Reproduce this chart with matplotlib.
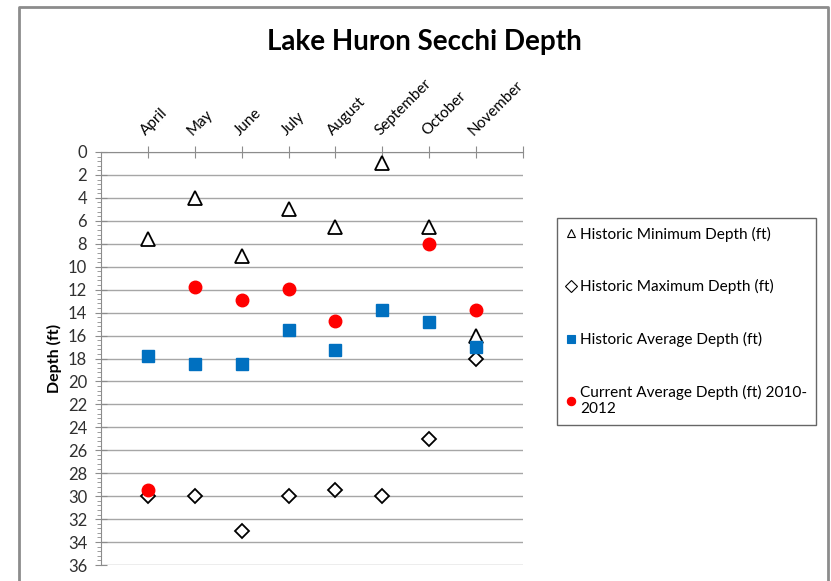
import matplotlib.pyplot as plt
from matplotlib.lines import Line2D
from matplotlib.ticker import MultipleLocator
import numpy as np

months = ["April", "May", "June", "July", "August", "September", "October", "November"]
hist_min = [7.6, 4.0, 9.1, 5.0, 6.5, 1.0, 6.5, 16.0]
hist_max = [30.0, 30.0, 33.0, 30.0, 29.5, 30.0, 25.0, 18.0]
hist_avg = [17.8, 18.5, 18.5, 15.5, 17.3, 13.8, 14.8, 17.0]
current_avg = [29.5, 11.8, 12.9, 11.9, 14.7, np.nan, 8.0, 13.8]

plt.rcParams['font.family'] = ['Lato', 'DejaVu Sans']

fig = plt.figure(figsize=(8.31, 5.81), dpi=100)
ax = fig.add_axes([101 / 831, 1 - 565 / 581, 422 / 831, 413 / 581])

x = np.arange(1, len(months) + 1)

ax.plot(x, hist_min, linestyle='none', marker='^', markersize=9.5,
        markerfacecolor='white', markeredgecolor='black', markeredgewidth=1.3,
        label='Historic Minimum Depth (ft)', zorder=3)
ax.plot(x, hist_max, linestyle='none', marker='D', markersize=7,
        markerfacecolor='white', markeredgecolor='black', markeredgewidth=1.3,
        label='Historic Maximum Depth (ft)', zorder=3)
ax.plot(x, hist_avg, linestyle='none', marker='s', markersize=8.5,
        color='#0070c0', label='Historic Average Depth (ft)', zorder=4)
ax.plot(x, current_avg, linestyle='none', marker='o', markersize=9,
        color='#ff0000', label='Current Average Depth (ft) 2010-\n2012', zorder=5)

ax.set_xlim(0, 9)
ax.set_ylim(36, 0)
ax.yaxis.set_major_locator(MultipleLocator(2))
ax.yaxis.set_minor_locator(MultipleLocator(0.4))
ax.grid(axis='y', color='#a6a6a6', linewidth=1.0)
ax.set_axisbelow(True)

ax.xaxis.tick_top()
ax.set_xticks(np.arange(1, 10))
ax.set_xticklabels(months + [""], rotation=45, ha='left', rotation_mode='anchor',
                   fontsize=11)
ax.tick_params(axis='x', which='major', direction='inout', length=8,
               color='#8c8c8c', pad=6, labelcolor='black')
ax.tick_params(axis='y', which='major', direction='inout', length=8,
               color='#8c8c8c', labelsize=12, labelcolor='#303030', pad=6)
ax.tick_params(axis='y', which='minor', direction='out', length=3,
               color='#8c8c8c')

for side in ['right', 'bottom']:
    ax.spines[side].set_visible(False)
ax.spines['left'].set_color('#8c8c8c')
ax.spines['top'].set_color('#8c8c8c')

ax.set_ylabel("Depth (ft)", fontsize=11.5, fontweight='bold', labelpad=4)

fig.text(424 / 831, 1 - 42 / 581, "Lake Huron Secchi Depth", ha='center',
         va='center', fontsize=20, fontweight='bold')

leg = fig.legend(loc='upper left', bbox_to_anchor=(557 / 831, 1 - 218 / 581),
                 fontsize=11.1, frameon=True, fancybox=False, edgecolor='#404040',
                 labelspacing=2.45, handlelength=0.7, handletextpad=0.25,
                 borderpad=0.55, borderaxespad=0)
leg.get_frame().set_linewidth(1.0)
for h in leg.legend_handles:
    h.set_markersize(6)
    h.set_markeredgewidth(0.8)

# grey chart border (left, top, right)
bx0, bx1, by1 = 19 / 831, 828 / 831, 1 - 7 / 581
fig.add_artist(Line2D([bx0, bx0, bx1, bx1], [0, by1, by1, 0],
                      transform=fig.transFigure, color='#8c8c8c', linewidth=2))

fig.savefig("out.png", dpi=100)
